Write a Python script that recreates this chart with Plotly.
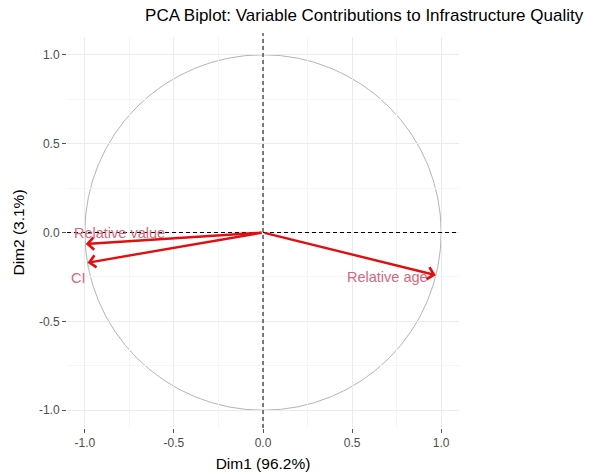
import plotly.graph_objects as go

variables = ["Relative value", "CI", "Relative age"]
dim1 = [-0.995, -0.985, 0.97]
dim2 = [-0.065, -0.17, -0.24]
tick_vals = [-1.0, -0.5, 0.0, 0.5, 1.0]
tick_text = ["-1.0", "-0.5", "0.0", "0.5", "1.0"]

arrow_col = "#E01010"
label_col = "#CF6A80"
FONT = "Liberation Sans, Arial"

fig = go.Figure()
fig.add_trace(go.Scatter(x=[None], y=[None], showlegend=False, hoverinfo="skip"))

shapes = [
    dict(type="circle", xref="x", yref="y", x0=-1, y0=-1, x1=1, y1=1,
         line=dict(color="#ABABAB", width=0.9), layer="below"),
    dict(type="line", xref="x", yref="paper", x0=0, x1=0, y0=0, y1=1.01,
         line=dict(color="black", width=1, dash="4px,3px")),
    dict(type="line", xref="paper", yref="y", x0=0, x1=1, y0=0, y1=0,
         line=dict(color="black", width=1, dash="4px,3px")),
]

annotations = []
label_pos = {
    "Relative value": dict(xanchor="left", xshift=-14, yshift=11),
    "CI": dict(xanchor="left", xshift=-18, yshift=-15),
    "Relative age": dict(xanchor="right", xshift=-6, yshift=-2),
}
for name, x, y in zip(variables, dim1, dim2):
    annotations.append(dict(x=x, y=y, ax=0, ay=0, xref="x", yref="y",
                            axref="x", ayref="y", showarrow=True, text="",
                            arrowhead=4, arrowsize=1.0, arrowwidth=2.4,
                            arrowcolor=arrow_col))
for name, x, y in zip(variables, dim1, dim2):
    p = label_pos[name]
    annotations.append(dict(x=x, y=y, xref="x", yref="y", text=name,
                            showarrow=False, xanchor=p["xanchor"], yanchor="middle",
                            xshift=p["xshift"], yshift=p["yshift"],
                            font=dict(family=FONT, size=14.5, color=label_col)))

axis_common = dict(
    range=[-1.1, 1.1], tickvals=tick_vals, ticktext=tick_text,
    showgrid=True, gridcolor="#EBEBEB", gridwidth=1, zeroline=False,
    ticks="outside", ticklen=4, tickcolor="#555555", tickwidth=1,
    tickfont=dict(family=FONT, size=12, color="#4D4D4D"),
    minor=dict(dtick=0.25, showgrid=True, gridcolor="#F5F5F5", gridwidth=1, ticks=""),
    showline=False, automargin=False,
)

fig.update_layout(
    width=594, height=475,
    margin=dict(l=67, r=135, t=37, b=47),
    plot_bgcolor="white", paper_bgcolor="white",
    title=dict(text="PCA Biplot: Variable Contributions to Infrastructure Quality",
               x=0.613, xanchor="center", y=0.968, yanchor="middle",
               font=dict(family=FONT, size=17, color="black")),
    xaxis=dict(**axis_common, title=dict(text="Dim1 (96.2%)", standoff=8,
               font=dict(family=FONT, size=15.5, color="black"))),
    yaxis=dict(**axis_common, title=dict(text="Dim2 (3.1%)", standoff=10,
               font=dict(family=FONT, size=15.5, color="black"))),
    shapes=shapes, annotations=annotations, showlegend=False,
)

fig.write_html("out.html", config={"displayModeBar": False},
               post_script="document.body.style.margin='0';document.body.style.overflow='hidden';")
